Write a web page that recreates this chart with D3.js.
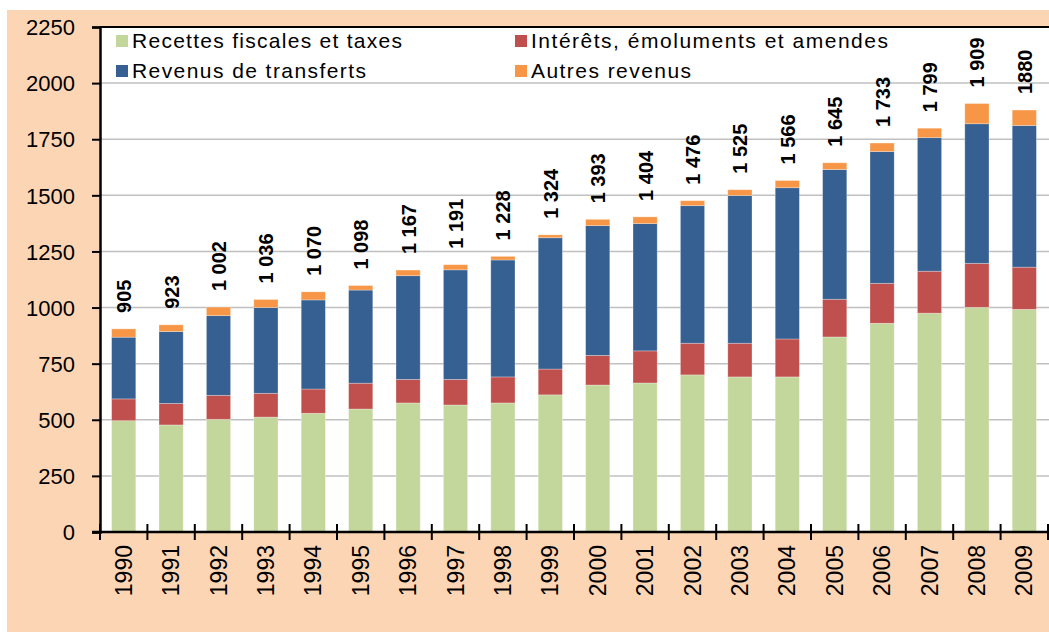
<!DOCTYPE html>
<html lang="fr">
<head>
<meta charset="UTF-8">
<title>Revenus 1990-2009</title>
<style>
  body { margin: 0; background: #fff; }
  text { font-family: "Liberation Sans", Arial, sans-serif; fill: #000; }
</style>
</head>
<body>
<svg width="1049" height="635"></svg>
<script src="https://cdnjs.cloudflare.com/ajax/libs/d3/7.8.5/d3.min.js"></script>
<script>
// data
var years = ["1990","1991","1992","1993","1994","1995","1996","1997","1998","1999",
             "2000","2001","2002","2003","2004","2005","2006","2007","2008","2009"];
var recettes   = [496,477,502,512,529,548,575,566,575,611,655,664,700,691,691,869,930,975,1001,992];
var interets   = [97,96,107,106,108,115,105,114,116,115,132,143,141,150,169,168,178,187,196,188];
var transferts = [275,320,355,382,397,415,462,488,521,585,578,567,613,658,674,578,587,595,622,631];
var autres     = [37,30,38,36,36,20,25,23,16,13,28,30,22,26,32,30,38,42,90,69];
var totalLabels = ["905","923","1 002","1 036","1 070","1 098","1 167","1 191","1 228","1 324",
                   "1 393","1 404","1 476","1 525","1 566","1 645","1 733","1 799","1 909","1880"];
var seriesNames = ["Recettes fiscales et taxes","Intérêts, émoluments et amendes","Revenus de transferts","Autres revenus"];
var seriesColors = ["#c3d69b","#c0504d","#366092","#f79646"];
var yTicks = [0,250,500,750,1000,1250,1500,1750,2000,2250];

var svg = d3.select("svg");

// peach background
svg.append("rect").attr("x", 7).attr("y", 10).attr("width", 1049 - 7).attr("height", 622)
  .attr("fill", "#fcd5b5");

var plotLeft = 100, plotRight = 1048, plotTop = 27, plotBottom = 532;

svg.append("rect").attr("x", plotLeft).attr("y", plotTop).attr("width", 1049 - plotLeft).attr("height", plotBottom - plotTop)
  .attr("fill", "#fff");

var x = d3.scaleBand().domain(years).range([plotLeft, plotRight]).paddingInner(0.49).paddingOuter(0.245);
var y = d3.scaleLinear().domain([0, 2250]).range([plotBottom, plotTop]);
var xi = d3.scaleLinear().domain([0, years.length]).range([plotLeft, plotRight]);

// gridlines
svg.append("g").selectAll("line").data(yTicks.slice(1, -1)).enter().append("line")
  .attr("x1", plotLeft).attr("x2", 1049)
  .attr("y1", d => y(d)).attr("y2", d => y(d))
  .attr("stroke", "#c0c0c0").attr("stroke-width", 1.5);

// stacked bars
var rows = years.map(function(yr, i) {
  return { year: yr, s0: recettes[i], s1: interets[i], s2: transferts[i], s3: autres[i] };
});
var stack = d3.stack().keys(["s0","s1","s2","s3"]);
var layers = stack(rows);

svg.append("g").selectAll("g").data(layers).enter().append("g")
  .attr("fill", (d, i) => seriesColors[i])
  .selectAll("rect").data(d => d).enter().append("rect")
  .attr("x", d => x(d.data.year))
  .attr("width", x.bandwidth())
  .attr("y", d => y(d[1]))
  .attr("height", d => y(d[0]) - y(d[1]))
  .attr("stroke", "#ffffff").attr("stroke-opacity", 0.35).attr("stroke-width", 0.8);

// total labels
var topLayer = layers[layers.length - 1];
svg.append("g").selectAll("text").data(topLayer).enter().append("text")
  .attr("transform", d => "translate(" + (x(d.data.year) + x.bandwidth() / 2 + 7.5) + "," + (y(d[1]) - 16) + ") rotate(-90)")
  .attr("text-anchor", "start")
  .style("font-size", "20px").style("font-weight", "bold")
  .text((d, i) => totalLabels[i]);

// y axis
var yAxis = svg.append("g").attr("transform", "translate(" + plotLeft + ",0)")
  .call(d3.axisLeft(y).tickValues(yTicks).tickSize(8).tickPadding(17).tickFormat(d3.format("d")));
yAxis.select(".domain").attr("stroke", "#000").attr("stroke-width", 2.5);
yAxis.selectAll(".tick line").attr("stroke", "#000").attr("stroke-width", 2);
yAxis.selectAll("text").style("font-size", "22px").attr("dy", "0.35em");

// top border
svg.append("line").attr("x1", plotLeft).attr("x2", 1049).attr("y1", plotTop).attr("y2", plotTop)
  .attr("stroke", "#000").attr("stroke-width", 2);

// x axis
svg.append("line").attr("x1", plotLeft - 8).attr("x2", 1049).attr("y1", plotBottom).attr("y2", plotBottom)
  .attr("stroke", "#000").attr("stroke-width", 2.5);
svg.append("g").selectAll("line").data(d3.range(years.length + 1)).enter().append("line")
  .attr("x1", d => xi(d)).attr("x2", d => xi(d))
  .attr("y1", plotBottom - 8).attr("y2", plotBottom + 8)
  .attr("stroke", "#000").attr("stroke-width", 2);
svg.append("g").selectAll("text").data(years).enter().append("text")
  .attr("transform", d => "translate(" + (x(d) + x.bandwidth() / 2 + 8) + "," + (plotBottom + 13) + ") rotate(-90)")
  .attr("text-anchor", "end")
  .style("font-size", "23px")
  .text(d => d);

// legend
var legendPos = [[116, 41], [515, 41], [116, 71], [515, 71]];
var legendWidths = [270, 357, 234, 160];
var leg = svg.append("g").selectAll("g").data(seriesNames).enter().append("g")
  .attr("transform", (d, i) => "translate(" + legendPos[i][0] + "," + legendPos[i][1] + ")");
leg.append("rect").attr("x", 0).attr("y", -6).attr("width", 12).attr("height", 12)
  .attr("fill", (d, i) => seriesColors[i]);
leg.append("text").attr("x", 16).attr("dy", "0.35em")
  .style("font-size", "21px")
  .attr("textLength", (d, i) => legendWidths[i])
  .attr("lengthAdjust", "spacing")
  .text(d => d);
</script>
</body>
</html>
